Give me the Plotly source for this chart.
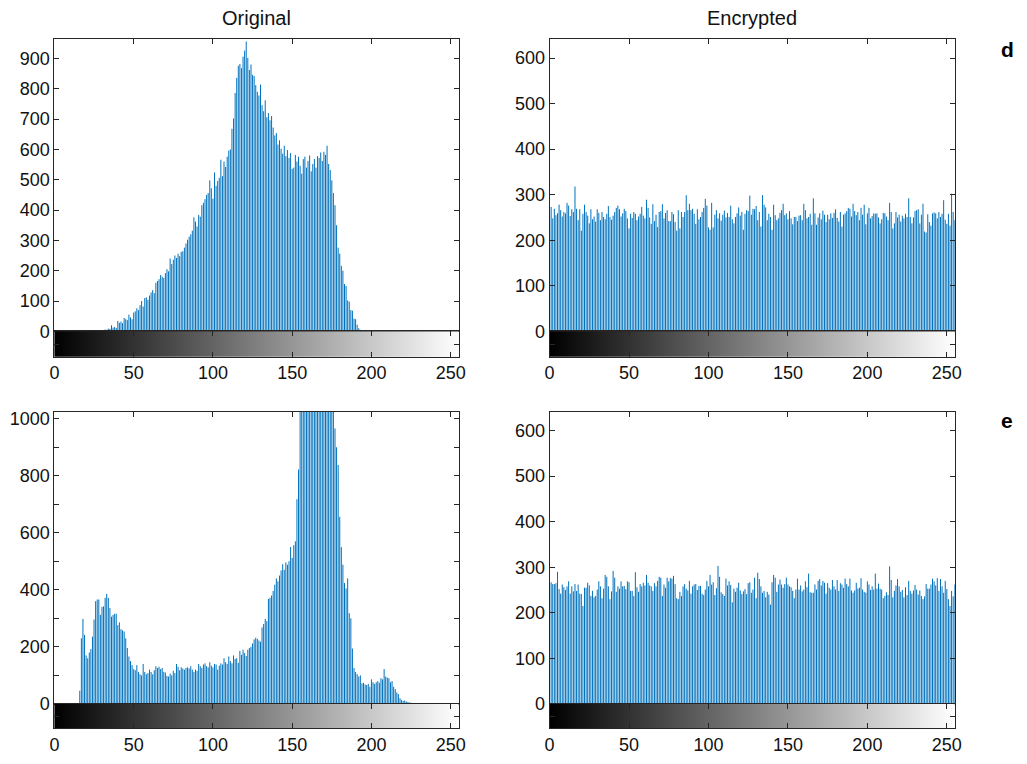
import plotly.graph_objects as go

# ---------------- data (histogram counts per gray level 0..255) ----------------
bins = list(range(256))
tick_vals = [0, 50, 100, 150, 200, 250]
col_titles = ["Original", "Encrypted"]
row_labels = ["d", "e"]

d_original = (
    [0] * 28 +
    [1, 2, 4, 3, 6, 5, 9, 8, 20, 12, 14, 11, 34, 28, 32, 27, 44, 40, 37, 55,
     46, 40, 62, 66, 76, 70, 86, 100, 82, 110, 112, 104, 118, 128, 136, 126, 160, 166, 172, 186,
     180, 176, 192, 205, 198, 240, 222, 236, 250, 242, 256, 248, 262, 264, 276, 290, 302, 312, 320, 332,
     376, 362, 346, 384, 378, 416, 424, 436, 450, 456, 498, 472, 438, 524, 480, 496, 506, 566, 512, 560,
     542, 576, 596, 600, 668, 702, 786, 836, 876, 882, 868, 906, 926, 956, 902, 862, 880, 846, 842, 812,
     790, 778, 814, 746, 726, 762, 706, 720, 696, 710, 672, 646, 654, 616, 630, 602, 586, 612, 578, 598,
     572, 588, 536, 540, 582, 560, 576, 546, 520, 568, 576, 540, 562, 580, 528, 552, 568, 540, 578, 572,
     590, 562, 592, 582, 612, 552, 532, 498, 456, 416, 350, 276, 256, 216, 200, 156, 150, 102, 98, 70,
     68, 42, 40, 22, 10, 5, 3, 1] +
    [0] * 60
)

e_original = (
    [0] * 16 +
    [46, 230, 298, 242, 170, 160, 180, 192, 236, 296, 360, 366, 366, 312, 340, 342, 372, 386, 372, 336,
     306, 312, 316, 316, 276, 286, 262, 258, 254, 230, 196, 166, 150, 136, 122, 118, 136, 112, 104, 100,
     140, 112, 104, 108, 120, 112, 104, 118, 132, 126, 130, 122, 126, 112, 110, 98, 96, 106, 100, 116,
     108, 140, 130, 118, 128, 124, 120, 126, 128, 124, 132, 120, 112, 120, 116, 140, 132, 126, 138, 142,
     132, 128, 146, 134, 128, 140, 138, 120, 134, 142, 138, 160, 146, 140, 166, 150, 142, 170, 158, 160,
     144, 186, 172, 190, 178, 168, 190, 196, 200, 212, 226, 232, 228, 222, 218, 268, 280, 298, 290, 368,
     372, 380, 396, 418, 440, 430, 450, 468, 490, 470, 496, 488, 500, 550, 512, 556, 570, 718, 822, 1100,
     1450, 1620, 1380, 1700, 1900, 1520, 2100, 1800, 1650, 2000, 1750, 1880, 1600, 1700, 1500, 1450, 1300, 1250, 1150, 1080,
     1060, 966, 900, 838, 656, 550, 488, 424, 405, 440, 318, 300, 194, 126, 112, 104, 96, 100, 72, 74,
     68, 66, 70, 60, 86, 76, 70, 76, 80, 74, 90, 86, 122, 96, 92, 90, 76, 80, 60, 52,
     40, 34, 20, 14, 10, 12, 8, 6, 5, 4, 3, 2, 1] +
    [0] * 27
)

d_encrypted = [
    250, 273, 248, 269, 255, 259, 278, 266, 252, 262, 259, 282, 276, 253, 268, 262,
    318, 269, 244, 268, 221, 258, 278, 262, 254, 237, 268, 246, 252, 241, 268, 260,
    244, 262, 251, 246, 258, 275, 251, 245, 254, 262, 271, 276, 268, 252, 259, 269,
    264, 248, 226, 258, 249, 262, 258, 244, 252, 258, 273, 254, 248, 289, 271, 250,
    236, 279, 242, 256, 229, 262, 264, 279, 248, 260, 266, 242, 242, 262, 257, 240,
    221, 266, 226, 262, 251, 262, 299, 266, 280, 266, 269, 258, 236, 268, 246, 251,
    262, 271, 291, 276, 228, 223, 282, 228, 256, 266, 248, 259, 243, 256, 265, 250,
    260, 251, 276, 246, 237, 251, 259, 272, 254, 262, 223, 258, 266, 264, 298, 256,
    269, 268, 275, 244, 262, 230, 299, 278, 272, 244, 258, 251, 223, 278, 255, 244,
    248, 260, 266, 280, 255, 259, 246, 264, 248, 235, 251, 251, 242, 254, 255, 244,
    280, 266, 248, 251, 258, 234, 292, 259, 234, 250, 259, 246, 265, 256, 240, 256,
    246, 259, 249, 260, 268, 249, 241, 262, 230, 256, 259, 264, 271, 269, 252, 280,
    264, 255, 262, 244, 271, 256, 278, 235, 259, 271, 248, 253, 259, 258, 259, 250,
    237, 246, 260, 259, 252, 244, 282, 262, 226, 237, 262, 250, 256, 241, 254, 248,
    258, 251, 292, 251, 237, 250, 264, 266, 268, 237, 256, 280, 219, 217, 257, 240,
    232, 259, 261, 259, 248, 262, 251, 258, 288, 245, 236, 258, 232, 302, 262, 244,
]

e_encrypted = [
    258, 267, 263, 263, 265, 290, 252, 242, 262, 256,
    250, 258, 269, 242, 258, 247, 263, 248, 262, 242,
    241, 215, 255, 255, 266, 260, 237, 248, 234, 237,
    251, 269, 258, 232, 253, 283, 279, 258, 230, 247,
    292, 277, 246, 258, 253, 269, 258, 259, 252, 269,
    267, 248, 248, 237, 289, 256, 246, 263, 258, 266,
    260, 283, 266, 260, 258, 248, 265, 258, 270, 279,
    277, 237, 262, 255, 277, 269, 276, 275, 281, 263,
    232, 230, 246, 237, 258, 263, 253, 249, 270, 242,
    258, 262, 263, 250, 259, 259, 242, 239, 251, 270,
    258, 283, 262, 267, 239, 254, 303, 279, 245, 241,
    237, 275, 260, 269, 261, 223, 253, 246, 255, 266,
    249, 241, 247, 252, 241, 265, 267, 244, 251, 277,
    232, 288, 274, 258, 244, 248, 234, 246, 240, 218,
    267, 283, 277, 246, 262, 273, 262, 255, 263, 277,
    262, 258, 256, 248, 232, 251, 275, 251, 260, 247,
    251, 269, 256, 286, 245, 244, 244, 262, 251, 270,
    274, 260, 270, 266, 242, 265, 255, 251, 272, 258,
    251, 272, 248, 265, 262, 255, 275, 263, 258, 275,
    249, 244, 249, 266, 253, 255, 276, 251, 246, 244,
    269, 262, 250, 258, 251, 286, 253, 264, 253, 251,
    232, 237, 245, 239, 302, 272, 234, 248, 260, 274,
    258, 246, 250, 234, 256, 239, 270, 248, 242, 249,
    261, 251, 240, 249, 237, 230, 236, 263, 253, 253,
    262, 275, 269, 260, 276, 248, 274, 258, 244, 270,
    252, 230, 215, 248, 236, 262,
]

# y-axis limits and tick steps per panel
panels = [
    # (values, ymax, major dtick, minor dtick, col, row)
    (d_original, 963, 100, None, 0, 0),
    (d_encrypted, 641, 100, None, 1, 0),
    (e_original, 1024, 200, 100, 0, 1),
    (e_encrypted, 641, 100, None, 1, 1),
]

# ---------------- layout geometry (pixels) ----------------
W, H = 1027, 764
col_px = [(50, 459), (551, 961)]
row_main_px = [(37, 334), (416, 713)]
row_cb_px = [(334, 360), (713, 738)]

def xd(a, b):
    return [a / W, b / W]

def yd(top, bottom):
    return [1 - bottom / H, 1 - top / H]

AX = "#262626"
FONT = "Liberation Sans, Arial, Helvetica, sans-serif"
BLUE = "#0072BD"

def stems(vals):
    """imhist-style stem lines: one vertical segment per gray level."""
    xs, ys = [], []
    for i, v in enumerate(vals):
        if v <= 0:
            continue
        xs += [i, i, None]
        ys += [0, v, None]
    return xs, ys

fig = go.Figure()
layout = {}
gray_scale = [[0, "#000000"], [1, "#ffffff"]]

for k, (vals, ymax, dt, mdt, c, r) in enumerate(panels):
    main_i = 2 * k + 1
    cb_i = 2 * k + 2
    sx, sy = stems(vals)
    fig.add_trace(go.Scatter(
        x=sx, y=sy, mode="lines", line=dict(color=BLUE, width=1),
        xaxis=f"x{main_i}", yaxis=f"y{main_i}", showlegend=False,
        hoverinfo="skip", cliponaxis=True))
    fig.add_trace(go.Heatmap(
        z=[bins], x=bins, y=[0], colorscale=gray_scale, showscale=False,
        xaxis=f"x{cb_i}", yaxis=f"y{cb_i}", hoverinfo="skip"))

    xa = xd(*col_px[c])
    ym = yd(*row_main_px[r])
    yc = yd(*row_cb_px[r])
    mk = lambda i: "" if i == 1 else str(i)

    layout[f"xaxis{mk(main_i)}"] = dict(
        domain=xa, anchor=f"y{main_i}", range=[0, 255], side="top",
        tickvals=tick_vals, ticks="inside", ticklen=5, tickcolor=AX,
        showticklabels=False, showline=True, linecolor=AX, linewidth=1,
        mirror=True, showgrid=False, zeroline=False, fixedrange=True)
    ycfg = dict(
        domain=ym, anchor=f"x{main_i}", range=[0, ymax], dtick=dt, tick0=0,
        ticks="inside", ticklen=5, tickcolor=AX, showline=True, linecolor=AX,
        linewidth=1, mirror="ticks", showgrid=False, zeroline=False,
        tickfont=dict(family=FONT, size=18, color="#111111"), fixedrange=True)
    if mdt:
        ycfg["minor"] = dict(dtick=mdt, ticks="inside", ticklen=5, tickcolor=AX, showgrid=False)
    layout[f"yaxis{main_i}"] = ycfg

    layout[f"xaxis{cb_i}"] = dict(
        domain=xa, anchor=f"y{cb_i}", range=[0, 255], tickvals=tick_vals,
        ticks="inside", ticklen=5, tickcolor=AX, showline=True, linecolor=AX,
        linewidth=1, mirror="ticks", showgrid=False, zeroline=False,
        tickfont=dict(family=FONT, size=18, color="#111111"), fixedrange=True)
    layout[f"yaxis{cb_i}"] = dict(
        domain=yc, anchor=f"x{cb_i}", range=[-0.5, 0.5], tickvals=[0],
        ticks="inside", ticklen=5, tickcolor=AX, showticklabels=False,
        showline=True, linecolor=AX, linewidth=1, mirror="ticks",
        showgrid=False, zeroline=False, fixedrange=True)

annotations = []
for c, t in enumerate(col_titles):
    a, b = col_px[c]
    annotations.append(dict(
        text=t, x=(a + b) / 2 / W, y=1 - 15 / H, xref="paper", yref="paper",
        xanchor="center", yanchor="middle", showarrow=False,
        font=dict(family=FONT, size=20, color="#111111")))
for r, (lab, ypx) in enumerate(zip(row_labels, [47, 425])):
    annotations.append(dict(
        text=f"<b>{lab}</b>", x=1014 / W, y=1 - ypx / H, xref="paper", yref="paper",
        xanchor="center", yanchor="middle", showarrow=False,
        font=dict(family=FONT, size=21, color="#000000")))

fig.update_layout(
    width=W, height=H, margin=dict(l=0, r=0, t=0, b=0),
    paper_bgcolor="white", plot_bgcolor="white",
    annotations=annotations, showlegend=False,
    **layout)

fig.write_html("out.html")
